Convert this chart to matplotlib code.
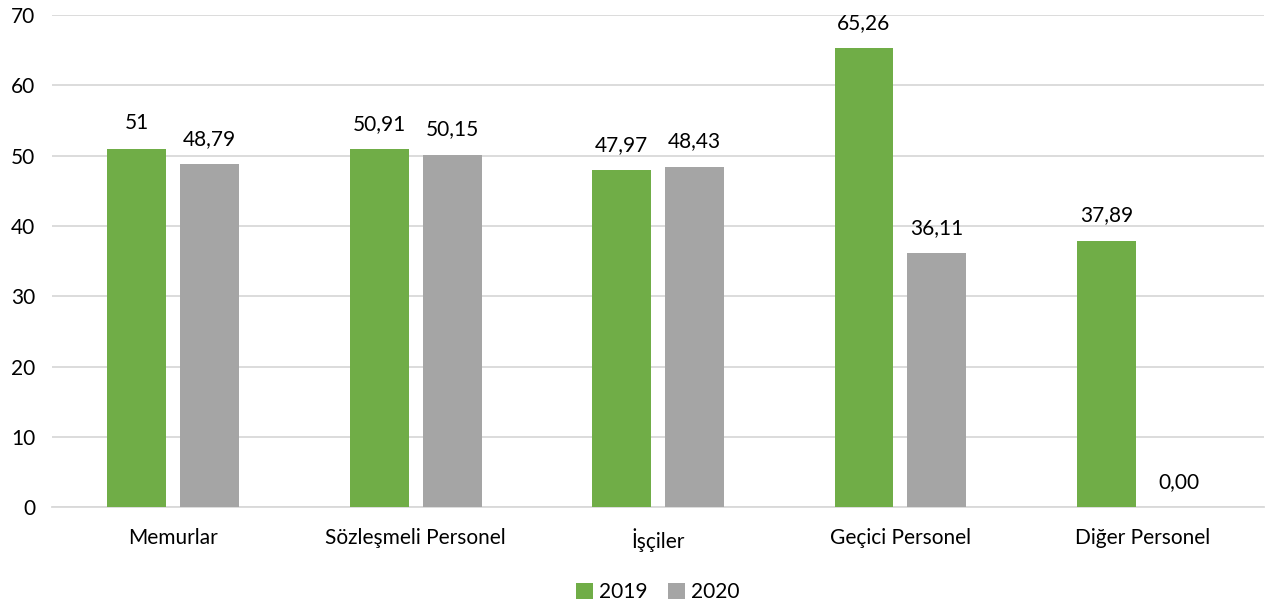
import matplotlib.pyplot as plt
import numpy as np

plt.rcParams['font.family'] = ['Lato', 'DejaVu Sans']

categories = ['Memurlar', 'Sözleşmeli Personel', 'İşçiler', 'Geçici Personel', 'Diğer Personel']
values_2019 = [51, 50.91, 47.97, 65.26, 37.89]
values_2020 = [48.79, 50.15, 48.43, 36.11, 0.00]
labels_2019 = ['51', '50,91', '47,97', '65,26', '37,89']
labels_2020 = ['48,79', '50,15', '48,43', '36,11', '0,00']

fig = plt.figure(figsize=(12.71, 6.03), dpi=100)
ax = fig.add_axes([0.041, 0.159, 0.9535, 0.816])

x = np.arange(len(categories))
w = 0.243
gap = 0.058
off = (w + gap) / 2
b1 = ax.bar(x - off, values_2019, w, color='#70AD47', label='2019', zorder=3)
b2 = ax.bar(x + off, values_2020, w, color='#A5A5A5', label='2020', zorder=3)

ax.bar_label(b1, labels=labels_2019, padding=11, fontsize=15, color='#000000')
ax.bar_label(b2, labels=labels_2020, padding=11, fontsize=15, color='#000000')

ax.set_ylim(0, 70)
ax.set_yticks(range(0, 71, 10))
ax.set_xlim(-0.5, len(categories) - 0.5)
ax.set_xticks(x)
ax.set_xticklabels(categories)
ax.tick_params(axis='both', length=0, labelsize=15, colors='#000000')
ax.tick_params(axis='x', pad=15)
ax.tick_params(axis='y', pad=12)
ax.yaxis.grid(True, color='#D9D9D9', linewidth=1.3, zorder=0)
for s in ['top', 'right', 'left']:
    ax.spines[s].set_visible(False)
ax.spines['bottom'].set_color('#D9D9D9')
ax.spines['bottom'].set_linewidth(1.3)

ax.legend(loc='upper center', bbox_to_anchor=(0.5, -0.115), ncol=2, frameon=False,
          fontsize=15, handlelength=0.8, handleheight=0.8, handletextpad=0.3, columnspacing=1.0)

fig.savefig('out.png', dpi=100)
